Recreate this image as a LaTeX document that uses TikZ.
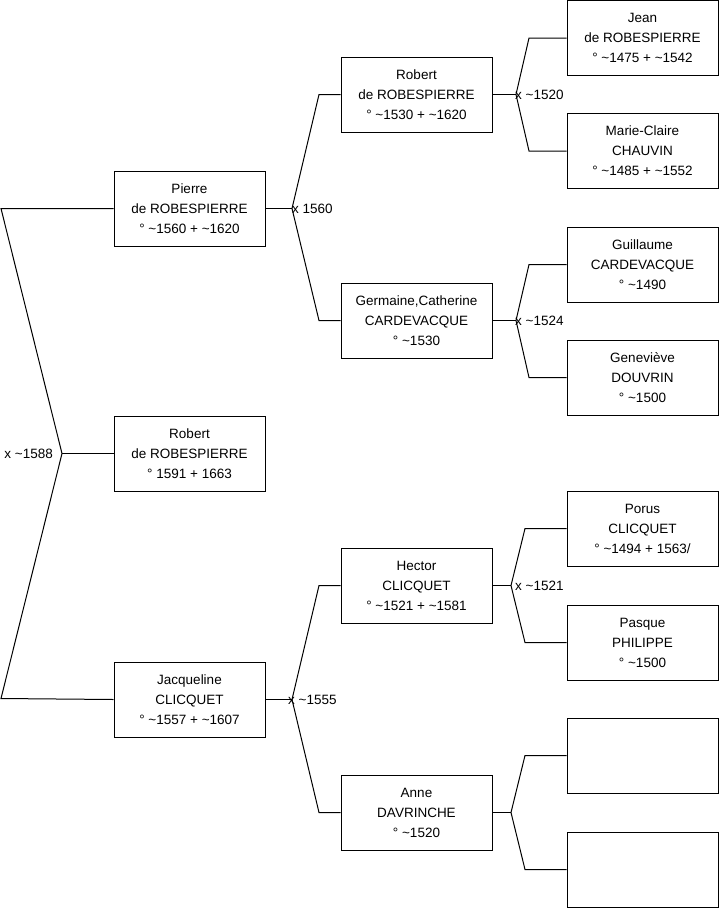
\documentclass[tikz,border=0pt]{standalone}
\usepackage{fontspec}
\setmainfont{Liberation Sans}
\newcommand\ap{\textasciitilde}
\begin{document}
\begin{tikzpicture}[x=1pt,y=-1pt,
  person/.style={draw=black, line width=1pt, minimum width=151pt, minimum height=75pt,
    inner sep=0pt, align=center, font=\fontsize{13.5}{20}\selectfont},
  link/.style={draw=black, line width=1pt},
  marr/.style={inner sep=0pt, font=\fontsize{13.5}{16}\selectfont}]
\useasboundingbox (0,0) rectangle (719,908);
% generation 1
\node[person] (pierre) at (189.5,208.5) {Pierre\\de ROBESPIERRE\\° \ap1560 + \ap1620};
\node[person] (robertc) at (189.5,453.5) {Robert\\de ROBESPIERRE\\° 1591 + 1663};
\node[person] (jacq) at (189.5,699.5) {Jacqueline\\CLICQUET\\° \ap1557 + \ap1607};
% generation 2
\node[person] (robert2) at (416.5,94.5) {Robert\\de ROBESPIERRE\\° \ap1530 + \ap1620};
\node[person] (germaine) at (416.5,320.5) {Germaine,Catherine\\CARDEVACQUE\\° \ap1530};
\node[person] (hector) at (416.5,585.5) {Hector\\CLICQUET\\° \ap1521 + \ap1581};
\node[person] (anne) at (416.5,812.5) {Anne\\DAVRINCHE\\° \ap1520};
% generation 3
\node[person] (jean) at (642.5,38) {Jean\\de ROBESPIERRE\\° \ap1475 + \ap1542};
\node[person] (marie) at (642.5,151) {Marie-Claire\\CHAUVIN\\° \ap1485 + \ap1552};
\node[person] (guill) at (642.5,264.5) {Guillaume\\CARDEVACQUE\\° \ap1490};
\node[person] (gene) at (642.5,377.5) {Geneviève\\DOUVRIN\\° \ap1500};
\node[person] (porus) at (642.5,528.5) {Porus\\CLICQUET\\° \ap1494 + 1563/};
\node[person] (pasque) at (642.5,642.5) {Pasque\\PHILIPPE\\° \ap1500};
\node[person] (emptya) at (642.5,755.5) {};
\node[person] (emptyb) at (642.5,869.5) {};
% root bracket
\coordinate (r0) at (62,453.5);
\coordinate (r1) at (1,208.5);
\coordinate (r2) at (1,698.5);
\draw[link] (pierre.west) -- (r1) -- (r0) -- (r2) -- (jacq.west);
\draw[link] (r0) -- (robertc.west);
\node[marr, anchor=east] (lr0) at (53,453.5) {x \ap1588};
% Pierre bracket
\coordinate (p0) at (292,208.5);
\coordinate (p1) at (319,94.5);
\coordinate (p2) at (319,320.5);
\draw[link] (pierre.east) -- (p0);
\draw[link] (robert2.west) -- (p1) -- (p0) -- (p2) -- (germaine.west);
\node[marr, anchor=west] (lp0) at (292,208.5) {x 1560};
% Jacqueline bracket
\coordinate (j0) at (292,699.5);
\coordinate (j1) at (319,585.5);
\coordinate (j2) at (319,812.5);
\draw[link] (jacq.east) -- (j0);
\draw[link] (hector.west) -- (j1) -- (j0) -- (j2) -- (anne.west);
\node[marr, anchor=west] (lj0) at (288,699.5) {x \ap1555};
% Robert2 bracket
\coordinate (a0) at (516,94.5);
\coordinate (a1) at (529,38);
\coordinate (a2) at (529,151);
\draw[link] (robert2.east) -- (a0);
\draw[link] (jean.west) -- (a1) -- (a0) -- (a2) -- (marie.west);
\node[marr, anchor=west] (la0) at (515,94.5) {x \ap1520};
% Germaine bracket
\coordinate (g0) at (516,320.5);
\coordinate (g1) at (529,264.5);
\coordinate (g2) at (529,377.5);
\draw[link] (germaine.east) -- (g0);
\draw[link] (guill.west) -- (g1) -- (g0) -- (g2) -- (gene.west);
\node[marr, anchor=west] (lg0) at (515,320.5) {x \ap1524};
% Hector bracket
\coordinate (h0) at (511,585.5);
\coordinate (h1) at (525,528.5);
\coordinate (h2) at (525,642.5);
\draw[link] (hector.east) -- (h0);
\draw[link] (porus.west) -- (h1) -- (h0) -- (h2) -- (pasque.west);
\node[marr, anchor=west] (lh0) at (515,585.5) {x \ap1521};
% Anne bracket
\coordinate (n0) at (511,812.5);
\coordinate (n1) at (525,755.5);
\coordinate (n2) at (525,869.5);
\draw[link] (anne.east) -- (n0);
\draw[link] (emptya.west) -- (n1) -- (n0) -- (n2) -- (emptyb.west);
\end{tikzpicture}
\end{document}
